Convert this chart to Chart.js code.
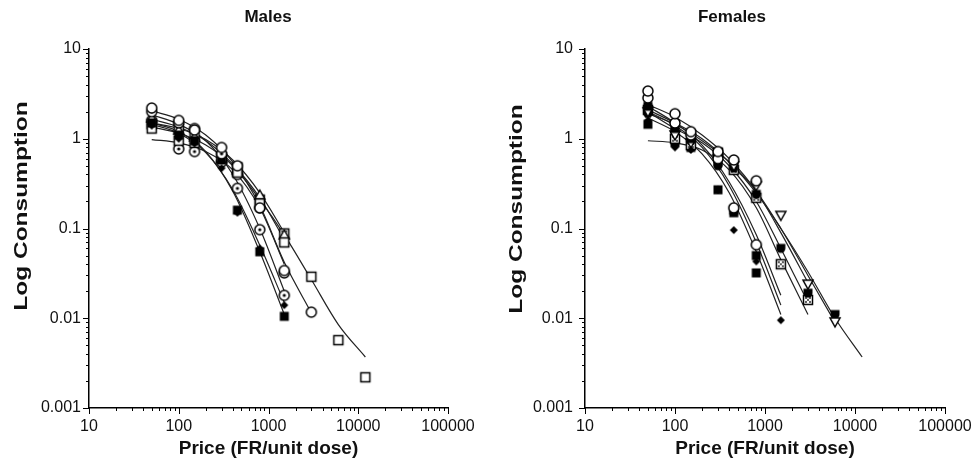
<!DOCTYPE html>
<html>
<head>
<meta charset="utf-8">
<script src="https://cdn.jsdelivr.net/npm/chart.js@4.4.0/dist/chart.umd.min.js"></script>
<style>
body { margin: 0; background: #fff; }
#wrap { position: relative; width: 979px; height: 466px; }
canvas { position: absolute; top: 0; }
</style>
</head>
<body>
<div id="wrap">
  <canvas id="males" width="490" height="466" style="left:0"></canvas>
  <canvas id="females" width="489" height="466" style="left:490px"></canvas>
</div>
<script>
// Axis ticks (log axes, labelled decades)
const xMajor = [10, 100, 1000, 10000, 100000];
const yMajor = [0.001, 0.01, 0.1, 1, 10];

// Males - observed consumption per subject
const malePrices = [50, 100, 150, 300, 450, 800, 1500, 3000, 6000, 12000];
const maleMarkers = ['circle', 'dotCircle', 'square', 'diamond', 'openSquare', 'triangle', 'dotCircle', 'hatchSquare'];
const maleValues = [
    [2.2, 1.6, 1.25, 0.8, 0.5, 0.17, 0.034, 0.0117],
    [2.0, 1.5, 1.3, 0.68, 0.28, 0.097, 0.018],
    [1.5, 1.1, 0.95, 0.58, 0.16, 0.055, 0.0105],
    [1.4, 1.0, 0.88, 0.47, 0.15, 0.06, 0.014],
    [1.3, 0.95, 0.9, 0.62, 0.42, 0.19, 0.07, 0.029, 0.0057, 0.0022],
    [1.7, 1.25, 1.05, 0.6, 0.45, 0.236, 0.085],
    [1.6, 0.77, 0.72, 0.55, 0.4, 0.17, 0.032],
    [1.45, 1.3, 1.1, 0.62, 0.48, 0.21, 0.088]
];

// Males - fitted demand curves
const curvePrices = [50, 100, 200, 400, 800, 1500, 3000, 6000, 12000];
const maleCurves = [
    [2.05, 1.65, 1.1, 0.55, 0.18, 0.042, 0.0115],
    [1.85, 1.45, 0.95, 0.4, 0.1, 0.02],
    [1.5, 1.2, 0.72, 0.26, 0.055, 0.011],
    [1.45, 1.15, 0.7, 0.27, 0.065, 0.015],
    [1.35, 1.15, 0.85, 0.5, 0.21, 0.085, 0.027, 0.0085, 0.0037],
    [1.65, 1.35, 0.95, 0.52, 0.22, 0.075],
    [0.98, 0.9, 0.72, 0.45, 0.17, 0.04],
    [1.5, 1.3, 0.98, 0.58, 0.25, 0.09]
];

// Females - observed consumption per subject
const femalePrices = [50, 100, 150, 300, 450, 800, 1500, 3000, 6000];
const femaleMarkers = ['circle', 'circle', 'square', 'diamond', 'triangleDown', 'shield', 'hatchSquare', 'square'];
const femaleValues = [
    [3.4, 1.9, 1.2, 0.72, 0.58, 0.34],
    [2.85, 1.5, 1.1, 0.6, 0.17, 0.066],
    [2.3, 1.3, 1.0, 0.55, 0.15, 0.032],
    [1.6, 0.8, 0.75, 0.27, 0.096, 0.043, 0.0095],
    [2.0, 1.1, 0.9, 0.6, 0.5, 0.3, 0.14, 0.024, 0.0091],
    [1.9, 1.2, 0.95, 0.5, 0.47, 0.24, 0.06, 0.019, 0.011],
    [2.1, 1.0, 0.85, 0.7, 0.45, 0.22, 0.04, 0.016],
    [1.45, 0.9, 0.8, 0.27, 0.16, 0.05]
];

// Females - fitted demand curves
const femaleCurves = [
    [2.4, 1.75, 1.1, 0.6, 0.26, 0.09, 0.025],
    [2.3, 1.5, 0.85, 0.33, 0.085, 0.018],
    [2.0, 1.4, 0.8, 0.3, 0.07, 0.014],
    [1.7, 1.2, 0.68, 0.25, 0.055, 0.011],
    [1.9, 1.45, 0.95, 0.55, 0.26, 0.1, 0.03, 0.009],
    [2.1, 1.5, 1.0, 0.55, 0.25, 0.1, 0.033, 0.01, 0.0037],
    [2.0, 1.3, 0.9, 0.5, 0.2, 0.06, 0.015],
    [0.95, 0.9, 0.75, 0.45, 0.17, 0.045, 0.011]
];

const FONT = '"Liberation Sans", Arial, sans-serif';

// major decades plus 2..9 minor ticks in between
function withMinors(majors) {
    const out = [];
    majors.forEach((m, i) => {
        out.push(m);
        if (i < majors.length - 1) {
            for (let k = 2; k <= 9; k++) out.push(+(m * k).toPrecision(3));
        }
    });
    return out;
}
const xTickValues = withMinors(xMajor);
const yTickValues = withMinors(yMajor);

/**
 * Small canvas used as a point marker
 */
function marker(kind) {
    const c = document.createElement('canvas');
    c.width = 14; c.height = 14;
    const g = c.getContext('2d');
    g.translate(7, 7);
    g.lineWidth = 1.5;
    g.strokeStyle = '#000';
    g.fillStyle = '#fff';
    switch (kind) {
        case 'circle':
            g.beginPath(); g.arc(0, 0, 5, 0, Math.PI * 2); g.fill(); g.stroke();
            break;
        case 'dotCircle':
            g.beginPath(); g.arc(0, 0, 5, 0, Math.PI * 2); g.fill(); g.stroke();
            g.fillStyle = '#000';
            g.beginPath(); g.arc(0, 0, 1.6, 0, Math.PI * 2); g.fill();
            break;
        case 'square':
            g.fillStyle = '#000'; g.fillRect(-4.5, -4.5, 9, 9);
            break;
        case 'openSquare':
            g.fillRect(-4.5, -4.5, 9, 9); g.strokeRect(-4.5, -4.5, 9, 9);
            break;
        case 'hatchSquare':
            g.fillRect(-4.5, -4.5, 9, 9); g.strokeRect(-4.5, -4.5, 9, 9);
            g.fillStyle = '#000';
            [[-2, -2], [2, -2], [-2, 2], [2, 2], [0, 0]].forEach(p => g.fillRect(p[0] - 0.8, p[1] - 0.8, 1.6, 1.6));
            break;
        case 'diamond':
            g.fillStyle = '#000';
            g.beginPath(); g.moveTo(0, -4); g.lineTo(4, 0); g.lineTo(0, 4); g.lineTo(-4, 0); g.closePath(); g.fill();
            break;
        case 'triangle':
            g.beginPath(); g.moveTo(0, -5); g.lineTo(5, 4); g.lineTo(-5, 4); g.closePath(); g.fill(); g.stroke();
            break;
        case 'triangleDown':
            g.beginPath(); g.moveTo(0, 5); g.lineTo(5, -4); g.lineTo(-5, -4); g.closePath(); g.fill(); g.stroke();
            break;
        case 'shield':
            g.fillStyle = '#000';
            g.beginPath(); g.moveTo(-4.5, -4.5); g.lineTo(4.5, -4.5); g.lineTo(4.5, 0);
            g.arc(0, 0, 4.5, 0, Math.PI); g.closePath(); g.fill();
            break;
    }
    return c;
}

// tick marks, panel title and y-axis title
const panelDecor = {
    id: 'panelDecor',
    afterDraw(chart, args, o) {
        const { ctx, chartArea: a, scales: { x, y } } = chart;
        ctx.save();
        ctx.strokeStyle = '#000';
        ctx.lineWidth = 1;
        ctx.beginPath();
        x.ticks.forEach(t => {
            const p = Math.round(x.getPixelForValue(t.value)) + 0.5;
            const len = xMajor.includes(t.value) ? 6 : 3;
            ctx.moveTo(p, a.bottom); ctx.lineTo(p, a.bottom + len);
        });
        y.ticks.forEach(t => {
            const p = Math.round(y.getPixelForValue(t.value)) + 0.5;
            const len = yMajor.includes(t.value) ? 6 : 3;
            ctx.moveTo(a.left, p); ctx.lineTo(a.left - len, p);
        });
        ctx.stroke();

        ctx.fillStyle = '#111';
        ctx.textAlign = 'center';
        ctx.textBaseline = 'middle';
        ctx.font = 'bold 17px ' + FONT;
        ctx.fillText(o.title, o.titleX, o.titleY);

        ctx.translate(o.yTitleX, o.yTitleY);
        ctx.rotate(-Math.PI / 2);
        ctx.scale(o.stretch, 1);
        ctx.font = 'bold 18px ' + FONT;
        ctx.fillText('Log Consumption', 0, 0);
        ctx.restore();
    }
};

function makePanel(id, prices, values, markers, curves, cfg) {
    const datasets = [];
    values.forEach((vals, i) => {
        datasets.push({
            data: vals.map((v, j) => ({ x: prices[j], y: v })),
            pointStyle: marker(markers[i]),
            showLine: false,
            order: 0
        });
    });
    curves.forEach(vals => {
        datasets.push({
            data: vals.map((v, j) => ({ x: curvePrices[j], y: v })),
            showLine: true,
            pointRadius: 0,
            borderWidth: 1.2,
            borderColor: '#222',
            cubicInterpolationMode: 'monotone',
            order: 1
        });
    });

    return new Chart(document.getElementById(id), {
        type: 'scatter',
        data: { datasets },
        options: {
            responsive: false,
            animation: false,
            devicePixelRatio: 1,
            layout: { padding: { top: 49, right: cfg.rightPad, bottom: 0, left: 0 } },
            plugins: {
                legend: { display: false },
                tooltip: { enabled: false },
                panelDecor: cfg.decor
            },
            scales: {
                x: {
                    type: 'logarithmic',
                    position: 'bottom',
                    min: 10,
                    max: 100000,
                    grid: { display: true, drawOnChartArea: false, drawTicks: true, tickLength: 6, tickColor: 'rgba(0,0,0,0)' },
                    border: { display: true, color: '#000', width: 1.5 },
                    ticks: {
                        autoSkip: false,
                        maxRotation: 0,
                        padding: 3,
                        color: '#111',
                        font: { size: 16, family: FONT },
                        callback: v => xMajor.includes(v) ? String(v) : ''
                    },
                    title: {
                        display: true,
                        text: 'Price (FR/unit dose)',
                        color: '#111',
                        font: { size: 19, weight: 'bold', family: FONT },
                        padding: { top: 0, bottom: 6 }
                    },
                    afterBuildTicks: s => { s.ticks = xTickValues.map(v => ({ value: v })); },
                    afterFit: s => { s.height = 58; }
                },
                y: {
                    type: 'logarithmic',
                    position: 'left',
                    min: 0.001,
                    max: 10,
                    grid: { display: true, drawOnChartArea: false, drawTicks: true, tickLength: 6, tickColor: 'rgba(0,0,0,0)' },
                    border: { display: true, color: '#000', width: 1.5 },
                    ticks: {
                        autoSkip: false,
                        padding: cfg.yPad,
                        color: '#111',
                        font: { size: 16, family: FONT },
                        callback: v => yMajor.includes(v) ? String(v) : ''
                    },
                    afterBuildTicks: s => { s.ticks = yTickValues.map(v => ({ value: v })); },
                    afterFit: s => { s.width = cfg.yWidth; }
                }
            }
        },
        plugins: [panelDecor]
    });
}

document.addEventListener('DOMContentLoaded', function() {
    makePanel('males', malePrices, maleValues, maleMarkers, maleCurves, {
        rightPad: 42, yWidth: 89, yPad: 2,
        decor: { title: 'Males', titleX: 268, titleY: 17, yTitleX: 22, yTitleY: 206, stretch: 1.36 }
    });
    makePanel('females', femalePrices, femaleValues, femaleMarkers, femaleCurves, {
        rightPad: 34, yWidth: 95, yPad: 6,
        decor: { title: 'Females', titleX: 242, titleY: 17, yTitleX: 27, yTitleY: 209, stretch: 1.36 }
    });
});
</script>
</body>
</html>
